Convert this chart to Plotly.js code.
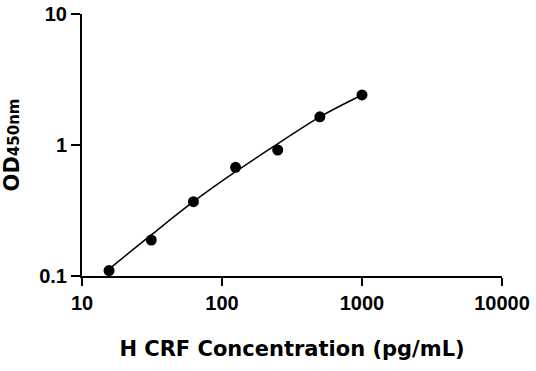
<!DOCTYPE html>
<html><head><meta charset="utf-8">
<script src="https://cdn.plot.ly/plotly-3.0.1.min.js"></script>
<style>body{margin:0;background:#fff}#c{width:536px;height:371px}</style>
</head><body><div id="c"></div>
<script>
const conc = [15.6, 31.25, 62.5, 125, 250, 500, 1000];
const od = [0.110, 0.188, 0.369, 0.676, 0.916, 1.64, 2.41];
const fitConc = [15.6, 31.25, 62.5, 125, 250, 500, 1000];
const fitOd = [0.113, 0.206, 0.369, 0.625, 1.02, 1.64, 2.41];
const xTicks = [10, 100, 1000, 10000];
const xTickText = ['10', '100', '1000', '10000'];
const yTicks = [0.1, 1, 10];
const yTickText = ['0.1', '1', '10'];

const tickFont = {family: 'Liberation Sans, Arial, sans-serif', size: 20, color: '#000', weight: 'bold'};
const titleFamily = 'DejaVu Sans, sans-serif';
Plotly.newPlot('c', [
  {x: fitConc, y: fitOd, mode: 'lines', line: {color: '#000', width: 1.5, shape: 'spline'}, hoverinfo: 'skip'},
  {x: conc, y: od, mode: 'markers', marker: {color: '#000', size: 11}}
], {
  width: 536, height: 371,
  margin: {l: 82, r: 34, t: 14, b: 95},
  showlegend: false,
  paper_bgcolor: '#fff', plot_bgcolor: '#fff',
  xaxis: {
    type: 'log', range: [1, 4], tickvals: xTicks, ticktext: xTickText,
    showgrid: false, zeroline: false, showline: true, linecolor: '#000', linewidth: 2,
    ticks: 'outside', ticklen: 8, tickwidth: 2, tickcolor: '#000', tickfont: tickFont,
    title: {text: 'H CRF Concentration (pg/mL)', font: {family: titleFamily, size: 21, color: '#000', weight: 'bold'}, standoff: 28}
  },
  yaxis: {
    type: 'log', range: [-1, 1], tickvals: yTicks, ticktext: yTickText,
    showgrid: false, zeroline: false, showline: true, linecolor: '#000', linewidth: 2,
    ticks: 'outside', ticklen: 9, tickwidth: 2, tickcolor: '#000', tickfont: tickFont,
    title: {text: 'OD<span style="font-size:15px">450nm</span>', font: {family: titleFamily, size: 21, color: '#000', weight: 'bold'}, standoff: 16}
  }
}, {displayModeBar: false, staticPlot: true});
</script></body></html>
